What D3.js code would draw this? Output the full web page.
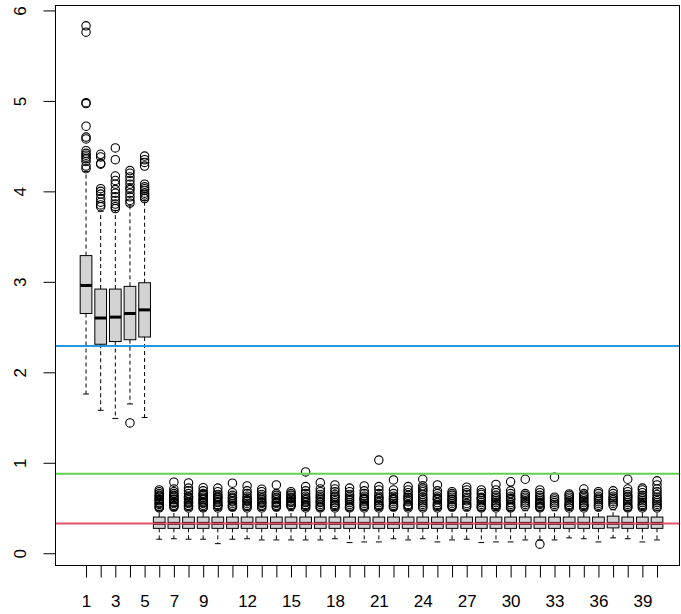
<!DOCTYPE html>
<html>
<head>
<meta charset="utf-8">
<script src="https://cdn.jsdelivr.net/npm/d3@7"></script>
<style>
  body { margin: 0; background: #fff; }
  text { font-family: "Liberation Sans", Arial, sans-serif; }
</style>
</head>
<body>
<div id="chart"></div>
<script>
// box positions 1..40
const groups = d3.range(1, 41);
const tickLabels = [1, 3, 5, 7, 9, 12, 15, 18, 21, 24, 27, 30, 33, 36, 39];
const yTicks = [0, 1, 2, 3, 4, 5, 6];

// five-number summaries, one entry per box
const whiskLo = [1.76, 1.58, 1.49, 1.65, 1.50,
  0.155, 0.16, 0.155, 0.155, 0.106, 0.155, 0.16, 0.147, 0.147, 0.147,
  0.147, 0.147, 0.16, 0.118, 0.125, 0.125, 0.16, 0.147, 0.16, 0.125,
  0.147, 0.155, 0.118, 0.125, 0.125, 0.147, 0.147, 0.147, 0.17, 0.16,
  0.125, 0.17, 0.16, 0.125, 0.147];
const q1 = [2.65, 2.31, 2.34, 2.36, 2.39,
  0.275, 0.275, 0.275, 0.275, 0.275, 0.275, 0.275, 0.275, 0.275, 0.275,
  0.275, 0.275, 0.275, 0.275, 0.275, 0.275, 0.275, 0.275, 0.275, 0.275,
  0.275, 0.275, 0.275, 0.275, 0.275, 0.275, 0.275, 0.275, 0.275, 0.275,
  0.275, 0.28, 0.275, 0.275, 0.275];
const medians = [2.96, 2.60, 2.61, 2.65, 2.69,
  0.33, 0.33, 0.33, 0.33, 0.33, 0.33, 0.33, 0.33, 0.33, 0.33,
  0.33, 0.33, 0.33, 0.33, 0.33, 0.33, 0.33, 0.33, 0.33, 0.33,
  0.33, 0.33, 0.33, 0.33, 0.33, 0.33, 0.33, 0.33, 0.33, 0.33,
  0.33, 0.33, 0.33, 0.33, 0.33];
const q3 = [3.29, 2.92, 2.92, 2.95, 2.99,
  0.40, 0.40, 0.40, 0.40, 0.40, 0.40, 0.40, 0.40, 0.40, 0.40,
  0.40, 0.40, 0.40, 0.40, 0.40, 0.40, 0.40, 0.40, 0.40, 0.40,
  0.40, 0.40, 0.40, 0.40, 0.40, 0.40, 0.40, 0.40, 0.40, 0.40,
  0.40, 0.41, 0.40, 0.40, 0.40];
const whiskHi = [4.22, 3.78, 3.79, 3.84, 3.90,
  0.47, 0.47, 0.47, 0.47, 0.47, 0.47, 0.47, 0.47, 0.47, 0.47,
  0.47, 0.47, 0.47, 0.47, 0.47, 0.47, 0.47, 0.47, 0.47, 0.47,
  0.47, 0.47, 0.47, 0.47, 0.47, 0.47, 0.47, 0.47, 0.47, 0.47,
  0.47, 0.48, 0.47, 0.47, 0.47];

const outliers = [
  [5.83, 5.76, 4.98, 4.97, 4.72, 4.60, 4.58, 4.45, 4.42, 4.40, 4.38, 4.36, 4.33, 4.28, 4.25],
  [4.41, 4.38, 4.31, 4.30, 4.03, 4.00, 3.97, 3.92, 3.88, 3.85, 3.83],
  [4.48, 4.35, 4.17, 4.12, 4.08, 4.02, 3.98, 3.94, 3.90, 3.86, 3.83, 3.81],
  [4.23, 4.20, 4.16, 4.12, 4.08, 4.04, 4.02, 3.98, 3.94, 3.90, 3.87, 1.44],
  [4.39, 4.35, 4.32, 4.28, 4.08, 4.05, 4.03, 4.01, 3.98, 3.96, 3.94, 3.92],
  [0.50, 0.51, 0.52, 0.54, 0.55, 0.56, 0.58, 0.59, 0.60, 0.62, 0.63, 0.64, 0.66, 0.68, 0.70],
  [0.51, 0.52, 0.53, 0.55, 0.56, 0.57, 0.59, 0.60, 0.62, 0.63, 0.64, 0.66, 0.68, 0.71, 0.785],
  [0.50, 0.52, 0.53, 0.55, 0.56, 0.57, 0.59, 0.61, 0.62, 0.63, 0.66, 0.69, 0.72, 0.777],
  [0.50, 0.51, 0.53, 0.55, 0.56, 0.57, 0.59, 0.60, 0.62, 0.64, 0.65, 0.66, 0.69, 0.725],
  [0.50, 0.52, 0.53, 0.54, 0.56, 0.57, 0.59, 0.61, 0.62, 0.63, 0.65, 0.68, 0.72],
  [0.51, 0.52, 0.53, 0.55, 0.57, 0.58, 0.60, 0.61, 0.62, 0.64, 0.67, 0.774],
  [0.50, 0.52, 0.53, 0.55, 0.57, 0.58, 0.59, 0.61, 0.63, 0.66, 0.69, 0.744],
  [0.50, 0.52, 0.53, 0.55, 0.56, 0.57, 0.59, 0.61, 0.63, 0.65, 0.68, 0.708],
  [0.51, 0.52, 0.53, 0.55, 0.56, 0.57, 0.59, 0.61, 0.62, 0.64, 0.66, 0.755],
  [0.52, 0.53, 0.54, 0.56, 0.57, 0.58, 0.60, 0.61, 0.62, 0.64, 0.66, 0.68],
  [0.50, 0.52, 0.53, 0.54, 0.56, 0.57, 0.59, 0.61, 0.63, 0.66, 0.69, 0.737, 0.899],
  [0.50, 0.51, 0.52, 0.54, 0.56, 0.57, 0.59, 0.61, 0.63, 0.65, 0.68, 0.71, 0.78],
  [0.50, 0.52, 0.53, 0.54, 0.56, 0.58, 0.60, 0.62, 0.63, 0.65, 0.68, 0.71, 0.755],
  [0.50, 0.51, 0.52, 0.54, 0.56, 0.58, 0.59, 0.61, 0.63, 0.65, 0.68, 0.72],
  [0.50, 0.52, 0.53, 0.55, 0.57, 0.59, 0.60, 0.61, 0.63, 0.66, 0.69, 0.744],
  [0.50, 0.52, 0.53, 0.54, 0.56, 0.58, 0.60, 0.61, 0.63, 0.66, 0.70, 0.737, 1.03],
  [0.51, 0.52, 0.53, 0.55, 0.57, 0.59, 0.60, 0.61, 0.63, 0.66, 0.70, 0.81],
  [0.50, 0.52, 0.53, 0.54, 0.57, 0.59, 0.61, 0.62, 0.64, 0.67, 0.70, 0.737],
  [0.50, 0.52, 0.54, 0.56, 0.58, 0.60, 0.62, 0.65, 0.68, 0.70, 0.72, 0.745, 0.818],
  [0.50, 0.52, 0.53, 0.54, 0.56, 0.59, 0.60, 0.61, 0.63, 0.66, 0.69, 0.755],
  [0.51, 0.52, 0.53, 0.55, 0.57, 0.59, 0.60, 0.62, 0.64, 0.66, 0.68],
  [0.51, 0.53, 0.55, 0.58, 0.60, 0.62, 0.65, 0.67, 0.70, 0.73],
  [0.50, 0.51, 0.52, 0.54, 0.56, 0.58, 0.60, 0.61, 0.62, 0.65, 0.67, 0.70],
  [0.50, 0.52, 0.53, 0.54, 0.56, 0.58, 0.60, 0.62, 0.64, 0.67, 0.70, 0.76],
  [0.50, 0.51, 0.52, 0.54, 0.56, 0.59, 0.60, 0.61, 0.63, 0.66, 0.69, 0.79],
  [0.52, 0.54, 0.56, 0.58, 0.60, 0.62, 0.64, 0.66, 0.818],
  [0.50, 0.51, 0.52, 0.54, 0.55, 0.56, 0.58, 0.60, 0.62, 0.64, 0.67, 0.70, 0.10],
  [0.52, 0.54, 0.56, 0.58, 0.60, 0.62, 0.84],
  [0.50, 0.52, 0.53, 0.54, 0.56, 0.58, 0.60, 0.62, 0.64, 0.656],
  [0.50, 0.52, 0.53, 0.54, 0.56, 0.58, 0.60, 0.62, 0.64, 0.66, 0.71],
  [0.51, 0.53, 0.55, 0.57, 0.59, 0.61, 0.63, 0.66, 0.68],
  [0.53, 0.55, 0.57, 0.59, 0.61, 0.63, 0.66, 0.69],
  [0.50, 0.51, 0.52, 0.54, 0.56, 0.58, 0.60, 0.62, 0.63, 0.65, 0.68, 0.71, 0.818],
  [0.50, 0.52, 0.53, 0.54, 0.56, 0.58, 0.60, 0.62, 0.64, 0.67, 0.70, 0.72],
  [0.50, 0.52, 0.54, 0.56, 0.58, 0.60, 0.62, 0.65, 0.68, 0.71, 0.755, 0.80]
];

// reference lines
const refValues = [2.29, 0.88, 0.33];
const refColors = ['#2297E6', '#61D04F', '#DF536B'];

const svgWidth = 681;
const svgHeight = 614;
const plot = { left: 55, right: 680, top: 5, bottom: 565 };

const svg = d3.select('#chart')
  .append('svg')
  .attr('width', svgWidth)
  .attr('height', svgHeight);

const xScale = d3.scaleLinear()
  .domain([-1.12, 41.57])
  .range([plot.left, plot.right]);

const yScale = d3.scaleLinear()
  .domain([-0.13, 6.06])
  .range([plot.bottom, plot.top]);

const boxW = xScale(1.4) - xScale(1);   // half width
const capW = xScale(1.2) - xScale(1);

const boxes = groups.map((g, i) => ({
  g: g, lo: whiskLo[i], q1: q1[i], med: medians[i], q3: q3[i], hi: whiskHi[i], out: outliers[i]
}));

const boxG = svg.selectAll('g.box')
  .data(boxes)
  .enter()
  .append('g')
  .attr('class', 'box');

// whiskers (dashed)
boxG.append('line')
  .attr('x1', d => xScale(d.g)).attr('x2', d => xScale(d.g))
  .attr('y1', d => yScale(d.q3)).attr('y2', d => yScale(d.hi))
  .attr('stroke', '#000').attr('stroke-dasharray', '4,3');
boxG.append('line')
  .attr('x1', d => xScale(d.g)).attr('x2', d => xScale(d.g))
  .attr('y1', d => yScale(d.q1)).attr('y2', d => yScale(d.lo))
  .attr('stroke', '#000').attr('stroke-dasharray', '4,3');

// staples
boxG.append('line')
  .attr('x1', d => xScale(d.g) - capW).attr('x2', d => xScale(d.g) + capW)
  .attr('y1', d => yScale(d.hi)).attr('y2', d => yScale(d.hi))
  .attr('stroke', '#000');
boxG.append('line')
  .attr('x1', d => xScale(d.g) - capW).attr('x2', d => xScale(d.g) + capW)
  .attr('y1', d => yScale(d.lo)).attr('y2', d => yScale(d.lo))
  .attr('stroke', '#000');

// box body
boxG.append('rect')
  .attr('x', d => xScale(d.g) - boxW)
  .attr('width', boxW * 2)
  .attr('y', d => yScale(d.q3))
  .attr('height', d => yScale(d.q1) - yScale(d.q3))
  .attr('fill', '#D3D3D3')
  .attr('stroke', '#000');

// median
boxG.append('line')
  .attr('x1', d => xScale(d.g) - boxW).attr('x2', d => xScale(d.g) + boxW)
  .attr('y1', d => yScale(d.med)).attr('y2', d => yScale(d.med))
  .attr('stroke', '#000').attr('stroke-width', 3);

// outliers
boxG.selectAll('circle')
  .data(d => d.out.map(v => ({ g: d.g, v: v })))
  .enter()
  .append('circle')
  .attr('cx', d => xScale(d.g))
  .attr('cy', d => yScale(d.v))
  .attr('r', 4.2)
  .attr('fill', 'none')
  .attr('stroke', '#000')
  .attr('stroke-width', 1.1);

// horizontal reference lines
svg.selectAll('line.ref')
  .data(refValues)
  .enter()
  .append('line')
  .attr('class', 'ref')
  .attr('x1', plot.left).attr('x2', plot.right)
  .attr('y1', d => yScale(d)).attr('y2', d => yScale(d))
  .attr('stroke', (d, i) => refColors[i])
  .attr('stroke-width', 2);

// frame
svg.append('rect')
  .attr('x', plot.left + 0.5).attr('y', plot.top + 0.5)
  .attr('width', plot.right - plot.left - 1)
  .attr('height', plot.bottom - plot.top)
  .attr('fill', 'none')
  .attr('stroke', '#000');

// x axis
const xAxis = d3.axisBottom(xScale)
  .tickValues(groups)
  .tickSize(12)
  .tickPadding(17)
  .tickFormat(d => tickLabels.includes(d) ? d : '');
const xg = svg.append('g')
  .attr('transform', `translate(0, ${plot.bottom + 0.5})`)
  .call(xAxis);
xg.select('.domain').remove();
xg.selectAll('text').style('font-size', '17px').attr('fill', '#000');

// y axis
const yAxis = d3.axisLeft(yScale)
  .tickValues(yTicks)
  .tickSize(12)
  .tickFormat(d3.format('d'));
const yg = svg.append('g')
  .attr('transform', `translate(${plot.left + 0.5}, 0)`)
  .call(yAxis);
yg.select('.domain').remove();
yg.selectAll('text')
  .style('font-size', '17px')
  .attr('fill', '#000')
  .attr('x', null).attr('dy', null)
  .attr('text-anchor', 'middle')
  .attr('transform', 'translate(-35.5, 0) rotate(-90)')
  .attr('dy', '0.35em');
</script>
</body>
</html>
